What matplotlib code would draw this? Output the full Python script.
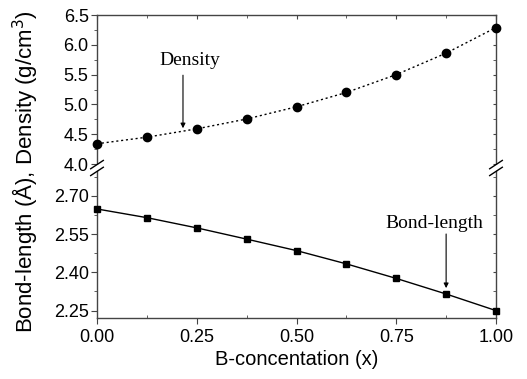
import matplotlib
matplotlib.use("Agg")
import matplotlib.pyplot as plt
import numpy as np
from matplotlib.ticker import MultipleLocator

x = [0.0, 0.125, 0.25, 0.375, 0.5, 0.625, 0.75, 0.875, 1.0]
density = [4.34, 4.45, 4.59, 4.755, 4.96, 5.20, 5.50, 5.86, 6.29]
bond_length = [2.648, 2.614, 2.574, 2.530, 2.485, 2.433, 2.376, 2.315, 2.250]
xticks = [0.00, 0.25, 0.50, 0.75, 1.00]
upper_yticks = [4.0, 4.5, 5.0, 5.5, 6.0, 6.5]
lower_yticks = [2.25, 2.40, 2.55, 2.70]

plt.rcParams['font.family'] = ['Liberation Sans', 'DejaVu Sans']
W, H = 527, 379
fig = plt.figure(figsize=(W / 100, H / 100), dpi=100)

left = 97 / W
width = (496 - 97) / W
top_px, brk_px, bot_px = 15, 168, 318
ax_up = fig.add_axes([left, 1 - brk_px / H, width, (brk_px - top_px) / H])
ax_lo = fig.add_axes([left, 1 - bot_px / H, width, (bot_px - brk_px) / H])

spine_c = '#444444'
tick_fs = 13
for ax in (ax_up, ax_lo):
    ax.set_xlim(0, 1.0)
    for s in ax.spines.values():
        s.set_color(spine_c)
        s.set_linewidth(1.0)
    ax.xaxis.set_minor_locator(MultipleLocator(0.125))
    ax.tick_params(axis='both', which='both', colors=spine_c, labelcolor='black',
                   labelsize=tick_fs, pad=2)

# Upper panel: density
ax_up.plot(x, density, linestyle=(0, (1.5, 2)), color='black', linewidth=1.0,
           marker='o', markersize=6, clip_on=False, zorder=3)
ax_up.set_ylim(3.933, 6.5)
ax_up.set_yticks(upper_yticks)
ax_up.set_yticklabels([f"{v:.1f}" for v in upper_yticks])
ax_up.yaxis.set_minor_locator(MultipleLocator(0.25))
ax_up.spines['bottom'].set_visible(False)
ax_up.set_xticks(xticks)
ax_up.tick_params(axis='x', which='both', bottom=False, labelbottom=False, top=True, direction='in')
ax_up.tick_params(axis='x', which='major', length=3)
ax_up.tick_params(axis='x', which='minor', length=2)
ax_up.tick_params(axis='y', which='major', direction='out', length=4)
ax_up.tick_params(axis='y', which='minor', direction='out', length=2.5)
ax_up.tick_params(axis='y', which='both', right=True)

# Lower panel: bond length
ax_lo.plot(x, bond_length, linestyle='-', color='black', linewidth=1.0,
           marker='s', markersize=5, clip_on=False, zorder=3)
ax_lo.set_ylim(2.221, 2.8085)
ax_lo.set_yticks(lower_yticks)
ax_lo.set_yticklabels([f"{v:.2f}" for v in lower_yticks])
ax_lo.yaxis.set_minor_locator(MultipleLocator(0.075))
ax_lo.spines['top'].set_visible(False)
ax_lo.set_xticks(xticks)
ax_lo.set_xticklabels([f"{v:.2f}" for v in xticks])
ax_lo.tick_params(axis='x', which='major', direction='out', length=4, top=False, pad=4)
ax_lo.tick_params(axis='x', which='minor', direction='in', length=2.5, top=False)
ax_lo.tick_params(axis='y', which='major', direction='out', length=4)
ax_lo.tick_params(axis='y', which='minor', direction='out', length=2.5)
ax_lo.tick_params(axis='y', which='both', right=True)
ax_lo.set_xlabel('B-concentation (x)', fontsize=14.5, labelpad=3)

# right-side ticks point inward and are tiny
for ax in (ax_up, ax_lo):
    for t in ax.yaxis.get_major_ticks() + ax.yaxis.get_minor_ticks():
        t.tick2line.set_marker(matplotlib.lines.TICKLEFT)
        t.tick2line.set_markersize(2)

# Break marks
yb = 1 - brk_px / H
dxm, dym = 0.012, 0.011
for xf in (left, left + width):
    fig.add_artist(plt.Line2D([xf - 0.009, xf + 0.009], [yb - 0.005, yb + 0.005],
                              color='white', linewidth=4.0, zorder=5))
    for dy in (-0.009, 0.009):
        fig.add_artist(plt.Line2D([xf - dxm, xf + dxm], [yb + dy - dym, yb + dy + dym],
                                  color='black', linewidth=1.0, zorder=6))

# Annotations
serif = ['Liberation Serif', 'DejaVu Serif']
ax_up.annotate('', xy=(0.2155, 4.60), xytext=(0.2155, 5.49),
               arrowprops=dict(arrowstyle='-|>', color='black', lw=0.8,
                               mutation_scale=7, shrinkA=0, shrinkB=0))
ax_up.text(0.233, 5.73, 'Density', ha='center', va='center', fontsize=14, family=serif)
ax_lo.annotate('', xy=(0.875, 2.338), xytext=(0.875, 2.55),
               arrowprops=dict(arrowstyle='-|>', color='black', lw=0.8,
                               mutation_scale=7, shrinkA=0, shrinkB=0))
ax_lo.text(0.845, 2.593, 'Bond-length', ha='center', va='center', fontsize=14, family=serif)

fig.text(25 / W, 1 - 172 / H, 'Bond-length (Å), Density (g/cm$^3$)', rotation=90,
         ha='center', va='center', fontsize=16)

fig.savefig('out.png', dpi=100)
